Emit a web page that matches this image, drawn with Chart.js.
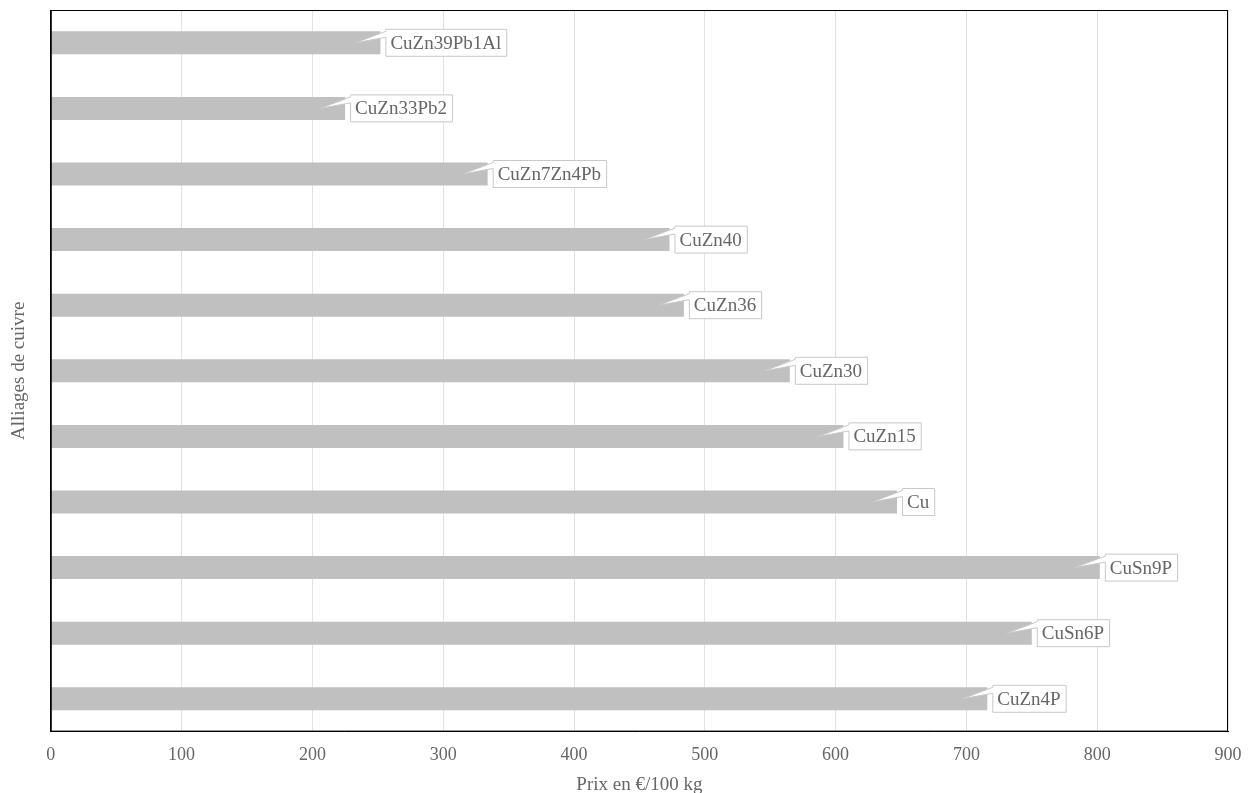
<!DOCTYPE html>
<html>
<head>
<meta charset="utf-8">
<script src="https://cdn.jsdelivr.net/npm/chart.js@4"></script>
<style>
  html, body { margin: 0; padding: 0; background: #fff; overflow: hidden; }
  #wrap { width: 1255px; height: 796px; }
</style>
</head>
<body>
<div id="wrap"><canvas id="alliagesChart"></canvas></div>
<script>
// DATA
const alliages = ["CuZn39Pb1Al", "CuZn33Pb2", "CuZn7Zn4Pb", "CuZn40", "CuZn36", "CuZn30", "CuZn15", "Cu", "CuSn9P", "CuSn6P", "CuZn4P"];
const prix = [252, 225, 334, 473, 484, 565, 606, 647, 802, 750, 716];
const xTicks = [0, 100, 200, 300, 400, 500, 600, 700, 800, 900];

const FONT = "'Liberation Serif', 'Times New Roman', serif";

// =========================
// FRAME AROUND PLOT AREA
// =========================
const framePlugin = {
    id: "frame",
    afterDraw(chart) {
        const { ctx, chartArea: a } = chart;
        ctx.save();
        ctx.strokeStyle = "#000";
        ctx.lineWidth = 1;
        ctx.strokeRect(a.left + 0.5, a.top + 0.5, a.right - a.left - 1, a.bottom - a.top - 1);
        ctx.restore();
    }
};

// =========================
// CALLOUT LABELS
// =========================
const calloutPlugin = {
    id: "callouts",
    afterDatasetsDraw(chart) {
        const ctx = chart.ctx;
        const meta = chart.getDatasetMeta(0);
        ctx.save();
        ctx.font = "19px " + FONT;
        ctx.textBaseline = "middle";
        meta.data.forEach((bar, i) => {
            const text = alliages[i];
            const w = ctx.measureText(text).width + 10;
            const h = 27;
            const x = bar.x + 5.5;
            const y = bar.y - h / 2;
            const tipX = bar.x - 25;
            const tipY = bar.y;

            ctx.beginPath();
            ctx.moveTo(x, y);
            ctx.lineTo(x + w, y);
            ctx.lineTo(x + w, y + h);
            ctx.lineTo(x, y + h);
            ctx.lineTo(x, y + 8);
            ctx.lineTo(tipX, tipY);
            ctx.lineTo(x, y + 2);
            ctx.closePath();
            ctx.fillStyle = "#fff";
            ctx.fill();
            ctx.strokeStyle = "#c8c8c8";
            ctx.lineWidth = 1;
            ctx.stroke();

            ctx.fillStyle = "#666";
            ctx.textAlign = "left";
            ctx.fillText(text, x + 4.5, bar.y + 1);
        });
        ctx.restore();
    }
};

new Chart(document.getElementById("alliagesChart"), {
    type: "bar",
    data: {
        labels: alliages,
        datasets: [{
            data: prix,
            backgroundColor: "#c0c0c0",
            borderWidth: 0,
            categoryPercentage: 0.35,
            barPercentage: 1
        }]
    },
    options: {
        indexAxis: "y",
        responsive: true,
        maintainAspectRatio: false,
        animation: false,
        layout: { padding: { top: 10, right: 27, left: 8, bottom: 0 } },
        plugins: {
            legend: { display: false },
            tooltip: { enabled: false }
        },
        scales: {
            x: {
                min: 0,
                max: 900,
                afterBuildTicks: axis => { axis.ticks = xTicks.map(v => ({ value: v })); },
                ticks: { color: "#666", font: { family: FONT, size: 18 }, padding: 13 },
                grid: { color: "#e2e2e2", drawTicks: false },
                border: { color: "#000", width: 1 },
                title: {
                    display: true,
                    text: "Prix en €/100 kg",
                    color: "#666",
                    font: { family: FONT, size: 19 },
                    padding: { top: -6, bottom: 0 }
                }
            },
            y: {
                ticks: { display: false },
                grid: { display: false, drawTicks: false },
                border: { color: "#000", width: 1 },
                title: {
                    display: true,
                    text: "Alliages de cuivre",
                    color: "#666",
                    font: { family: FONT, size: 19 },
                    padding: { top: 0, bottom: 20 }
                }
            }
        }
    },
    plugins: [framePlugin, calloutPlugin]
});
</script>
</body>
</html>
